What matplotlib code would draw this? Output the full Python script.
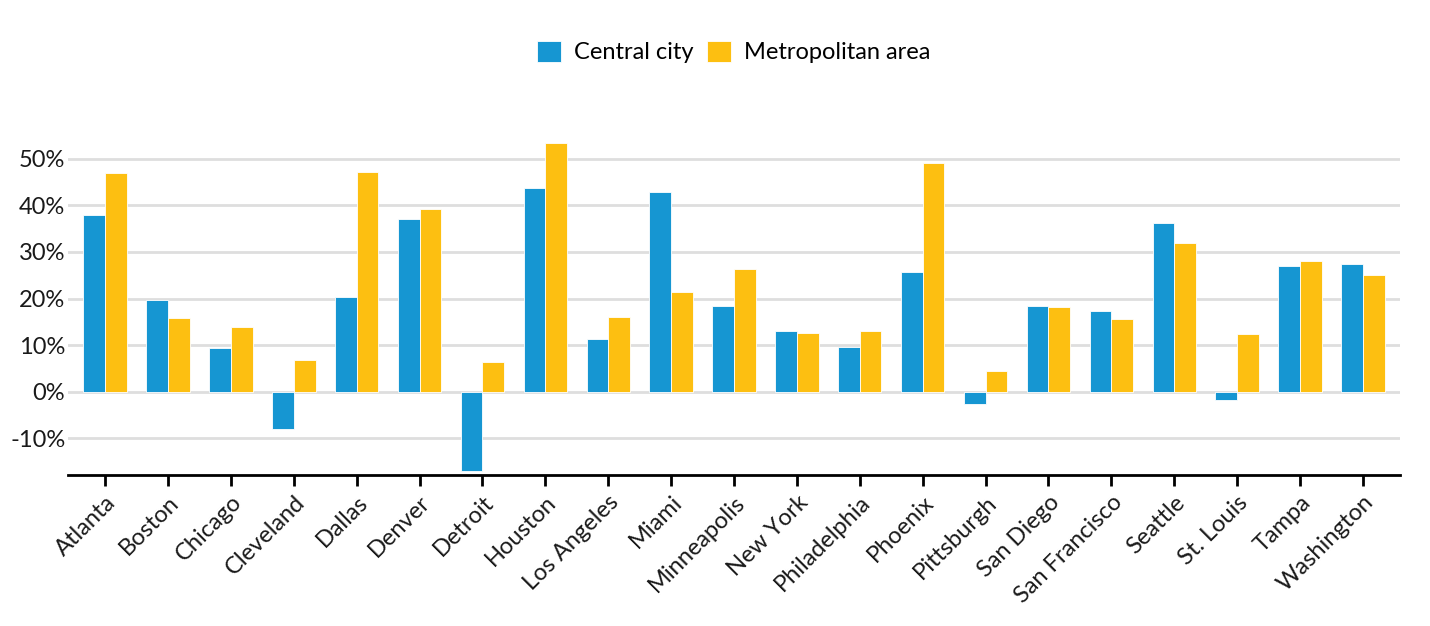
"""Population growth by city: central city vs. metropolitan area."""

import matplotlib.pyplot as plt
import numpy as np
from matplotlib.ticker import FuncFormatter

cities = [
    "Atlanta", "Boston", "Chicago", "Cleveland", "Dallas", "Denver", "Detroit",
    "Houston", "Los Angeles", "Miami", "Minneapolis", "New York", "Philadelphia",
    "Phoenix", "Pittsburgh", "San Diego", "San Francisco", "Seattle", "St. Louis",
    "Tampa", "Washington",
]
central_city = [
    37.9, 19.6, 9.4, -8.0, 20.4, 37.0, -17.0, 43.8, 11.4, 42.8, 18.3,
    13.0, 9.7, 25.6, -2.6, 18.3, 17.4, 36.1, -1.7, 26.9, 27.3,
]
metro_area = [
    47.0, 15.9, 13.9, 6.8, 47.1, 39.1, 6.4, 53.4, 16.1, 21.4, 26.3,
    12.6, 13.1, 49.1, 4.4, 18.1, 15.6, 32.0, 12.4, 28.1, 25.0,
]
y_ticks = [-10, 0, 10, 20, 30, 40, 50]

BLUE = "#1696d2"
YELLOW = "#fdbf11"

plt.rcParams["font.family"] = ["Lato", "DejaVu Sans"]

fig = plt.figure(figsize=(14.3, 6.26), dpi=100)
ax = fig.add_axes([0.0476, 0.2412, 0.9314, 0.5508])

x = np.arange(len(cities))
width = 0.345
ax.bar(x - width / 2, central_city, width, color=BLUE, edgecolor="white",
       linewidth=0.6, label="Central city", zorder=3)
ax.bar(x + width / 2, metro_area, width, color=YELLOW, edgecolor="white",
       linewidth=0.6, label="Metropolitan area", zorder=3)

ax.set_xlim(-0.59, len(cities) - 0.41)
ax.set_ylim(-17.85, 56.1)
ax.set_yticks(y_ticks)
ax.yaxis.set_major_formatter(FuncFormatter(lambda v, _: f"{v:.0f}%"))
ax.grid(axis="y", color="#dedede", linewidth=2, zorder=0)
ax.tick_params(axis="y", length=0, pad=2, labelsize=17, labelcolor="#1a1a1a")

ax.set_xticks(x)
ax.set_xticklabels(cities, rotation=45, ha="right", rotation_mode="anchor",
                   fontsize=17, color="#1a1a1a")
ax.tick_params(axis="x", length=8, width=2, color="black", pad=4)

for side in ["top", "right", "left"]:
    ax.spines[side].set_visible(False)
ax.spines["bottom"].set_linewidth(2)
ax.spines["bottom"].set_color("black")

fig.legend(loc="center", bbox_to_anchor=(0.513, 0.917), ncol=2, frameon=False,
           fontsize=17, handlelength=1.0, handleheight=1.0,
           handletextpad=0.55, columnspacing=0.6)

fig.savefig("out.png", dpi=100)
